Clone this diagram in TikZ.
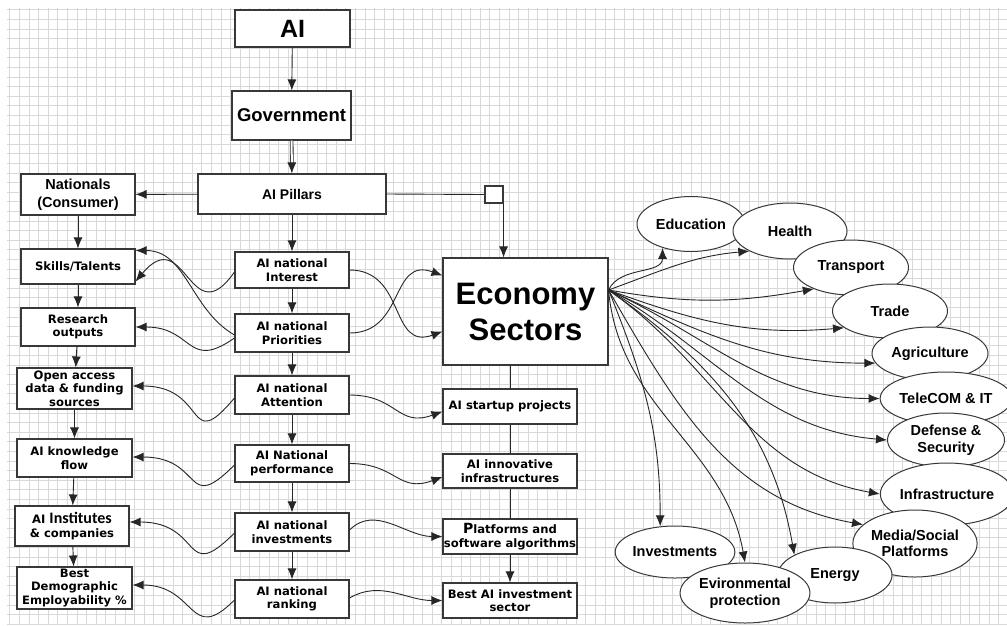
\documentclass[tikz,border=0pt]{standalone}
\usepackage{fontspec}
\setmainfont{Liberation Sans}
\newfontfamily\verdanafont{DejaVu Sans}
\newfontfamily\calibrifont{Carlito}
\usepackage{tikz}
\usetikzlibrary{
  arrows.meta,
  positioning,
  shapes,
}
\tikzstyle{arrow} = [
  -{Latex[length=11pt,width=9pt]},
  line width=0.9pt,
  black!85,
]
\tikzstyle{link} = [
  line width=0.9pt,
  black!85,
]
\tikzstyle{block} = [
  draw=black!78,
  line width=1.1pt,
  fill=white,
  align=center,
  inner sep=0pt,
  font=\verdanafont\bfseries\fontsize{11.6}{13.5}\selectfont,
]
\tikzstyle{sector} = [
  ellipse,
  draw=black!78,
  line width=1pt,
  fill=white,
  inner sep=0pt,
  align=center,
  font=\bfseries\fontsize{14.5}{16.5}\selectfont,
]
\colorlet{gridgray}{black!15}

\begin{document}
\begin{tikzpicture}[x=1pt, y=1pt]
  \useasboundingbox (0,0) rectangle (1007,-625);
  \fill[white] (0,0) rectangle (1007,-625);
  \draw[gridgray, line width=0.5pt, step=9.6] (7,-8) grid (1007,-625);

  \node[block, minimum width=115pt, minimum height=37pt, font=\bfseries\fontsize{25}{26}\selectfont] (ai) at (292.5,-28.5) {AI};
  \node[block, minimum width=119pt, minimum height=49pt, font=\bfseries\fontsize{18.5}{20}\selectfont] (gov) at (291.5,-115.5) {Government};
  \node[block, minimum width=188pt, minimum height=40pt, font=\bfseries\fontsize{14}{16}\selectfont] (pillars) at (292,-194) {AI Pillars};
  \node[block, minimum width=114pt, minimum height=41pt, font=\bfseries\fontsize{14.5}{17.5}\selectfont] (nationals) at (78,-194.5) {Nationals\\(Consumer)};
  \node[block, minimum width=18pt, minimum height=17pt] (junction) at (494,-194.5) {};

  \node[block, minimum width=114pt, minimum height=35pt] (skills) at (78,-266.5) {Skills/Talents};
  \node[block, minimum width=114pt, minimum height=38pt] (research) at (78,-327) {Research\\outputs};
  \node[block, minimum width=115pt, minimum height=41pt] (access) at (74.5,-388.5) {Open access\\data \& funding\\sources};
  \node[block, minimum width=115pt, minimum height=38pt] (knowledge) at (74.5,-458) {AI knowledge\\flow};
  \node[block, minimum width=114pt, minimum height=40pt] (institutes) at (72,-526) {AI {\calibrifont\bfseries\fontsize{16}{16}\selectfont Institutes}\\[1pt]\& companies};
  \node[block, minimum width=115pt, minimum height=42pt] (demographic) at (74.5,-588) {Best\\Demographic\\Employability \%};

  \node[block, minimum width=114pt, minimum height=36pt] (interest) at (292,-270) {AI national\\Interest};
  \node[block, minimum width=114pt, minimum height=38pt] (priorities) at (292,-333) {AI national\\Priorities};
  \node[block, minimum width=114pt, minimum height=38pt] (attention) at (292,-395) {AI national\\Attention};
  \node[block, minimum width=114pt, minimum height=37pt] (performance) at (292,-463.5) {AI National\\performance};
  \node[block, minimum width=114pt, minimum height=38pt] (investments) at (292,-532) {AI national\\investments};
  \node[block, minimum width=114pt, minimum height=38pt] (ranking) at (292,-599) {AI national\\ranking};

  \node[block, minimum width=165pt, minimum height=107pt, font=\bfseries\fontsize{31}{36}\selectfont] (economy) at (525.5,-311.5) {Economy\\Sectors};
  \node[block, minimum width=134pt, minimum height=35pt] (startup) at (510,-406.5) {AI startup projects};
  \node[block, minimum width=134pt, minimum height=34pt] (innovative) at (510,-471) {AI innovative\\infrastructures};
  \node[block, minimum width=134pt, minimum height=35pt] (platforms) at (510,-536.5) {{\fontsize{14}{13.5}\selectfont P}latforms and\\software algorithms};
  \node[block, minimum width=134pt, minimum height=35pt] (bestsector) at (510,-600.5) {Best AI investment\\sector};

  \node[sector, minimum width=108pt, minimum height=55pt] (education) at (691,-224) {Education};
  \node[sector, minimum width=114pt, minimum height=56pt] (health) at (790,-231) {Health};
  \node[sector, minimum width=115pt, minimum height=55pt] (transport) at (851,-267.5) {Transport};
  \node[sector, minimum width=115pt, minimum height=54pt] (trade) at (890,-311) {Trade};
  \node[sector, minimum width=116pt, minimum height=53pt] (agriculture) at (930,-353.5) {Agriculture};
  \node[sector, minimum width=117pt, minimum height=53pt] (telecom) at (946,-398.5) {TeleCOM \& IT};
  \node[sector, minimum width=117pt, minimum height=54pt] (defense) at (946,-440) {Defense \&\\Security};
  \node[sector, minimum width=116pt, minimum height=62pt] (infrastructure) at (947,-494) {Infrastructure};
  \node[sector, minimum width=115pt, minimum height=67pt] (media) at (915,-543.5) {Media/Social\\Platforms};
  \node[sector, minimum width=114pt, minimum height=56pt] (energy) at (835,-575) {Energy};
  \node[sector, minimum width=116pt, minimum height=52pt] (investmentsector) at (675,-552) {Investments};
  \node[sector, minimum width=116pt, minimum height=60pt] (environment) at (745,-593) {Evironmental\\protection};

  \draw[arrow] (ai) -- (gov);
  \draw[arrow, double, double distance=2pt, line width=0.8pt] (gov) -- (pillars);
  \draw[arrow] (pillars) -- (nationals);
  \draw[link] (pillars.east) -- (junction.west);
  \draw[arrow] (junction.south east) -- (junction.south east |- economy.north);

  \draw[arrow] (nationals) -- (skills);
  \draw[arrow] (skills) -- (research);
  \draw[arrow] (research) -- (access);
  \draw[arrow] (access) -- (knowledge);
  \draw[arrow] (knowledge) -- (institutes);
  \draw[arrow] (institutes) -- (demographic);

  \draw[arrow] (pillars) -- (interest);
  \draw[arrow] (interest) -- (priorities);
  \draw[arrow] (priorities) -- (attention);
  \draw[arrow] (attention) -- (performance);
  \draw[arrow] (performance) -- (investments);
  \draw[arrow] (investments) -- (ranking);

  \draw[link] (economy.south -| startup.north) -- (startup.north);
  \draw[link] (startup) -- (innovative);
  \draw[link] (innovative) -- (platforms);
  \draw[arrow] (platforms) -- (bestsector);

  \draw[arrow] ([yshift=-2pt]priorities.west) to[out=150, in=0] ([yshift=16pt]skills.east);
  \draw[arrow] ([yshift=-2pt]interest.west) to[out=235, in=50, looseness=2] ([yshift=-15pt]skills.east);
  \draw[arrow] ([yshift=-5pt]priorities.west) to[out=215, in=0, looseness=1.5] (research.east);
  \draw[arrow] ([yshift=-3pt]attention.west) to[out=230, in=0, looseness=1.9] ([yshift=2.5pt]access.east);
  \draw[arrow] ([yshift=-1.5pt]performance.west) to[out=225, in=0, looseness=1.8] ([yshift=1pt]knowledge.east);
  \draw[arrow] ([yshift=-1pt]investments.west) to[out=225, in=0, looseness=1.8] ([yshift=4pt]institutes.east);
  \draw[arrow] ([yshift=-1pt]ranking.west) to[out=225, in=0, looseness=1.6] ([yshift=3pt]demographic.east);

  \draw[arrow] (interest.east) to[out=0, in=200, looseness=1.3] ([yshift=-20pt]economy.west);
  \draw[arrow] (priorities.east) to[out=0, in=160, looseness=1.3] ([yshift=36pt]economy.west);
  \draw[arrow] (attention.east) to[out=0, in=200, looseness=1.3] ([yshift=-5pt]startup.west);
  \draw[arrow] (performance.east) to[out=0, in=200, looseness=1.3] ([yshift=-6pt]innovative.west);
  \draw[arrow] ([yshift=2pt]investments.east) to[out=45, in=180] (platforms.west);
  \draw[arrow] ([yshift=1pt]ranking.east) to[out=30, in=180] (bestsector.west);

  \coordinate (hub) at ([yshift=21.5pt]economy.east);
  \draw[arrow] (hub) to[out=65, in=-90] (education.220);
  \draw[arrow] (hub) to[out=20, in=185] (health.south west);
  \draw[arrow] (hub) to[out=-10, in=190] (transport.210);
  \draw[arrow] (hub) to[out=-20, in=185] (trade.200);
  \draw[arrow] (hub) to[out=-25, in=180] (agriculture.190);
  \draw[arrow] (hub) to[out=-25, in=180] (telecom.west);
  \draw[arrow] (hub) to[out=-30, in=175] (defense.west);
  \draw[arrow] (hub) to[out=-35, in=170] (infrastructure.west);
  \draw[arrow] (hub) to[out=-60, in=170] (media.160);
  \draw[arrow] (hub) to[out=-35, in=100] (energy.north west);
  \draw[arrow] (hub) to[out=-85, in=100] (environment.north);
  \draw[arrow] (hub) to[out=-68, in=90] (investmentsector.120);
\end{tikzpicture}
\end{document}
